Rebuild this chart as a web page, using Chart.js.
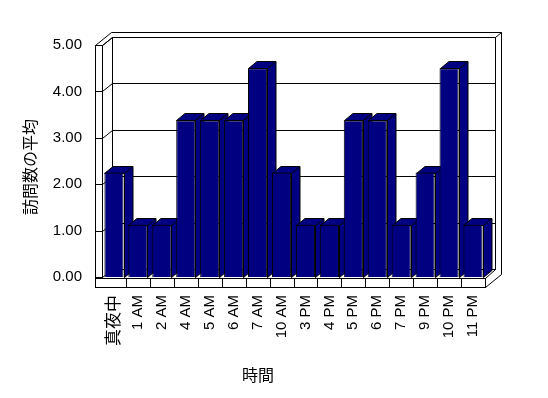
<!DOCTYPE html>
<html>
<head>
<meta charset="utf-8">
<script src="https://cdn.jsdelivr.net/npm/chart.js@4.4.1/dist/chart.umd.min.js"></script>
<style>
    body { margin: 0; background: #fff; }
    #wrap { width: 548px; height: 398px; }
</style>
</head>
<body>
<div id="wrap"><canvas id="visitsChart" width="548" height="398"></canvas></div>
<script>
const hours = ['真夜中', '1 AM', '2 AM', '4 AM', '5 AM', '6 AM', '7 AM', '10 AM',
    '3 PM', '4 PM', '5 PM', '6 PM', '7 PM', '9 PM', '10 PM', '11 PM'];
const visits = [2.25, 1.125, 1.125, 3.375, 3.375, 3.375, 4.5, 2.25,
    1.125, 1.125, 3.375, 3.375, 1.125, 2.25, 4.5, 1.125];
const yTicks = [0, 1, 2, 3, 4, 5];

const xTitle = '時間';
const yTitle = '訪問数の平均';
const fontFamily = "'Liberation Sans', Arial, 'Noto Sans CJK JP', sans-serif";
const navy = '#000080';

// depth of the 3d box and of each bar
const depth = {dx: 10, dy: -8};
const barDepth = {dx: 8.5, dy: -7};
const wall = 7;

function line(ctx, x1, y1, x2, y2) {
    ctx.beginPath();
    ctx.moveTo(x1, y1);
    ctx.lineTo(x2, y2);
    ctx.stroke();
}

function px(v) {
    return Math.round(v) + 0.5;
}

const box3d = {
    id: 'box3d',
    beforeDatasetsDraw: function (chart) {
        const ctx = chart.ctx;
        const area = chart.chartArea;
        const yScale = chart.scales.y;
        const xScale = chart.scales.x;
        const l = px(area.left), r = px(area.right), t = px(area.top), b = px(area.bottom);
        const dx = depth.dx, dy = depth.dy;
        ctx.save();
        ctx.strokeStyle = '#000';
        ctx.lineWidth = 1;

        // back wall
        ctx.strokeRect(l + dx, t + dy, r - l, b - t);
        $each(yTicks, function (v) {
            if (v === 0 || v === yTicks[yTicks.length - 1]) return;
            const y = px(yScale.getPixelForValue(v)) + dy;
            line(ctx, l + dx, y, r + dx, y);
        });
        // back wall thickness
        line(ctx, l + dx - 1, t + dy - 5, r + dx + 6, t + dy - 5);
        line(ctx, r + dx, t + dy, r + dx + 6, t + dy - 5);
        line(ctx, r + dx + 6, t + dy - 5, r + dx + 6, b + dy + 5);

        // side wall
        line(ctx, l - wall, t, l - wall, b + 10);
        line(ctx, l, t, l, b);
        line(ctx, l - wall, t, l, t);
        line(ctx, l - wall, t, l + dx - 1, t + dy - 5);
        line(ctx, l, t, l + dx, t + dy);
        $each(yTicks, function (v) {
            const y = px(yScale.getPixelForValue(v));
            line(ctx, l - wall, y, l, y);
            line(ctx, l, y, l + dx, y + dy);
        });

        // floor
        ctx.strokeRect(l - wall, b + 1, r - l + wall, 9);
        line(ctx, r, b + 1, r + dx, b + dy);
        line(ctx, r, b + 10, r + dx + 6, b + dy + 5);
        for (let i = 1; i < hours.length; i++) {
            const x = px((xScale.getPixelForTick(i - 1) + xScale.getPixelForTick(i)) / 2);
            line(ctx, x, b + 1, x, b + 10);
        }

        // top and side faces of the bars, drawn behind the front faces
        const bars = chart.getDatasetMeta(0).data;
        ctx.fillStyle = navy;
        $each(bars, function (bar) {
            const x1 = px(bar.x - bar.width / 2), x2 = px(bar.x + bar.width / 2);
            const yt = px(bar.y), yb = px(bar.base);
            const bx = barDepth.dx, by = barDepth.dy;
            ctx.beginPath();
            ctx.moveTo(x1, yt);
            ctx.lineTo(x1 + bx, yt + by);
            ctx.lineTo(x2 + bx, yt + by);
            ctx.lineTo(x2 + bx, yb + by);
            ctx.lineTo(x2, yb);
            ctx.lineTo(x2, yt);
            ctx.closePath();
            ctx.fill();
            ctx.stroke();
            line(ctx, x2, yt, x2 + bx, yt + by);
        });
        ctx.restore();
    },
    afterDraw: function (chart) {
        const ctx = chart.ctx;
        ctx.save();
        ctx.fillStyle = '#000';
        ctx.font = '16px ' + fontFamily;
        ctx.textAlign = 'center';
        ctx.textBaseline = 'middle';
        ctx.fillText(xTitle, 258, 377);
        ctx.translate(32, 167);
        ctx.rotate(-Math.PI / 2);
        ctx.fillText(yTitle, 0, 0);
        ctx.restore();
    }
};

function $each(arr, fn) {
    for (let i = 0; i < arr.length; i++) fn(arr[i], i);
}

const ctx = document.getElementById('visitsChart');
new Chart(ctx, {
    type: 'bar',
    data: {
        labels: hours,
        datasets: [{
            data: visits,
            backgroundColor: navy,
            borderColor: '#000',
            borderWidth: 1,
            barPercentage: 0.8,
            categoryPercentage: 1,
        }]
    },
    plugins: [box3d],
    options: {
        responsive: false,
        animation: false,
        layout: {
            padding: {left: 0, right: 63, top: 45, bottom: 0}
        },
        plugins: {
            legend: {display: false},
            tooltip: {enabled: false},
        },
        scales: {
            x: {
                grid: {display: false, drawTicks: false},
                border: {display: false},
                ticks: {
                    autoSkip: false,
                    maxRotation: 90,
                    minRotation: 90,
                    padding: 18,
                    color: '#000',
                    font: function (c) {
                        return {family: fontFamily, size: c.index === 0 ? 17 : 15};
                    },
                },
                afterFit: function (scale) {
                    scale.height = 121;
                },
            },
            y: {
                min: 0,
                max: 5,
                grid: {display: false, drawTicks: false},
                border: {display: false},
                ticks: {
                    stepSize: 1,
                    padding: 20,
                    color: '#000',
                    font: {family: fontFamily, size: 15},
                    callback: function (value) {
                        return value.toFixed(2);
                    }
                },
                afterFit: function (scale) {
                    scale.width = 102;
                },
            }
        }
    }
});
</script>
</body>
</html>
